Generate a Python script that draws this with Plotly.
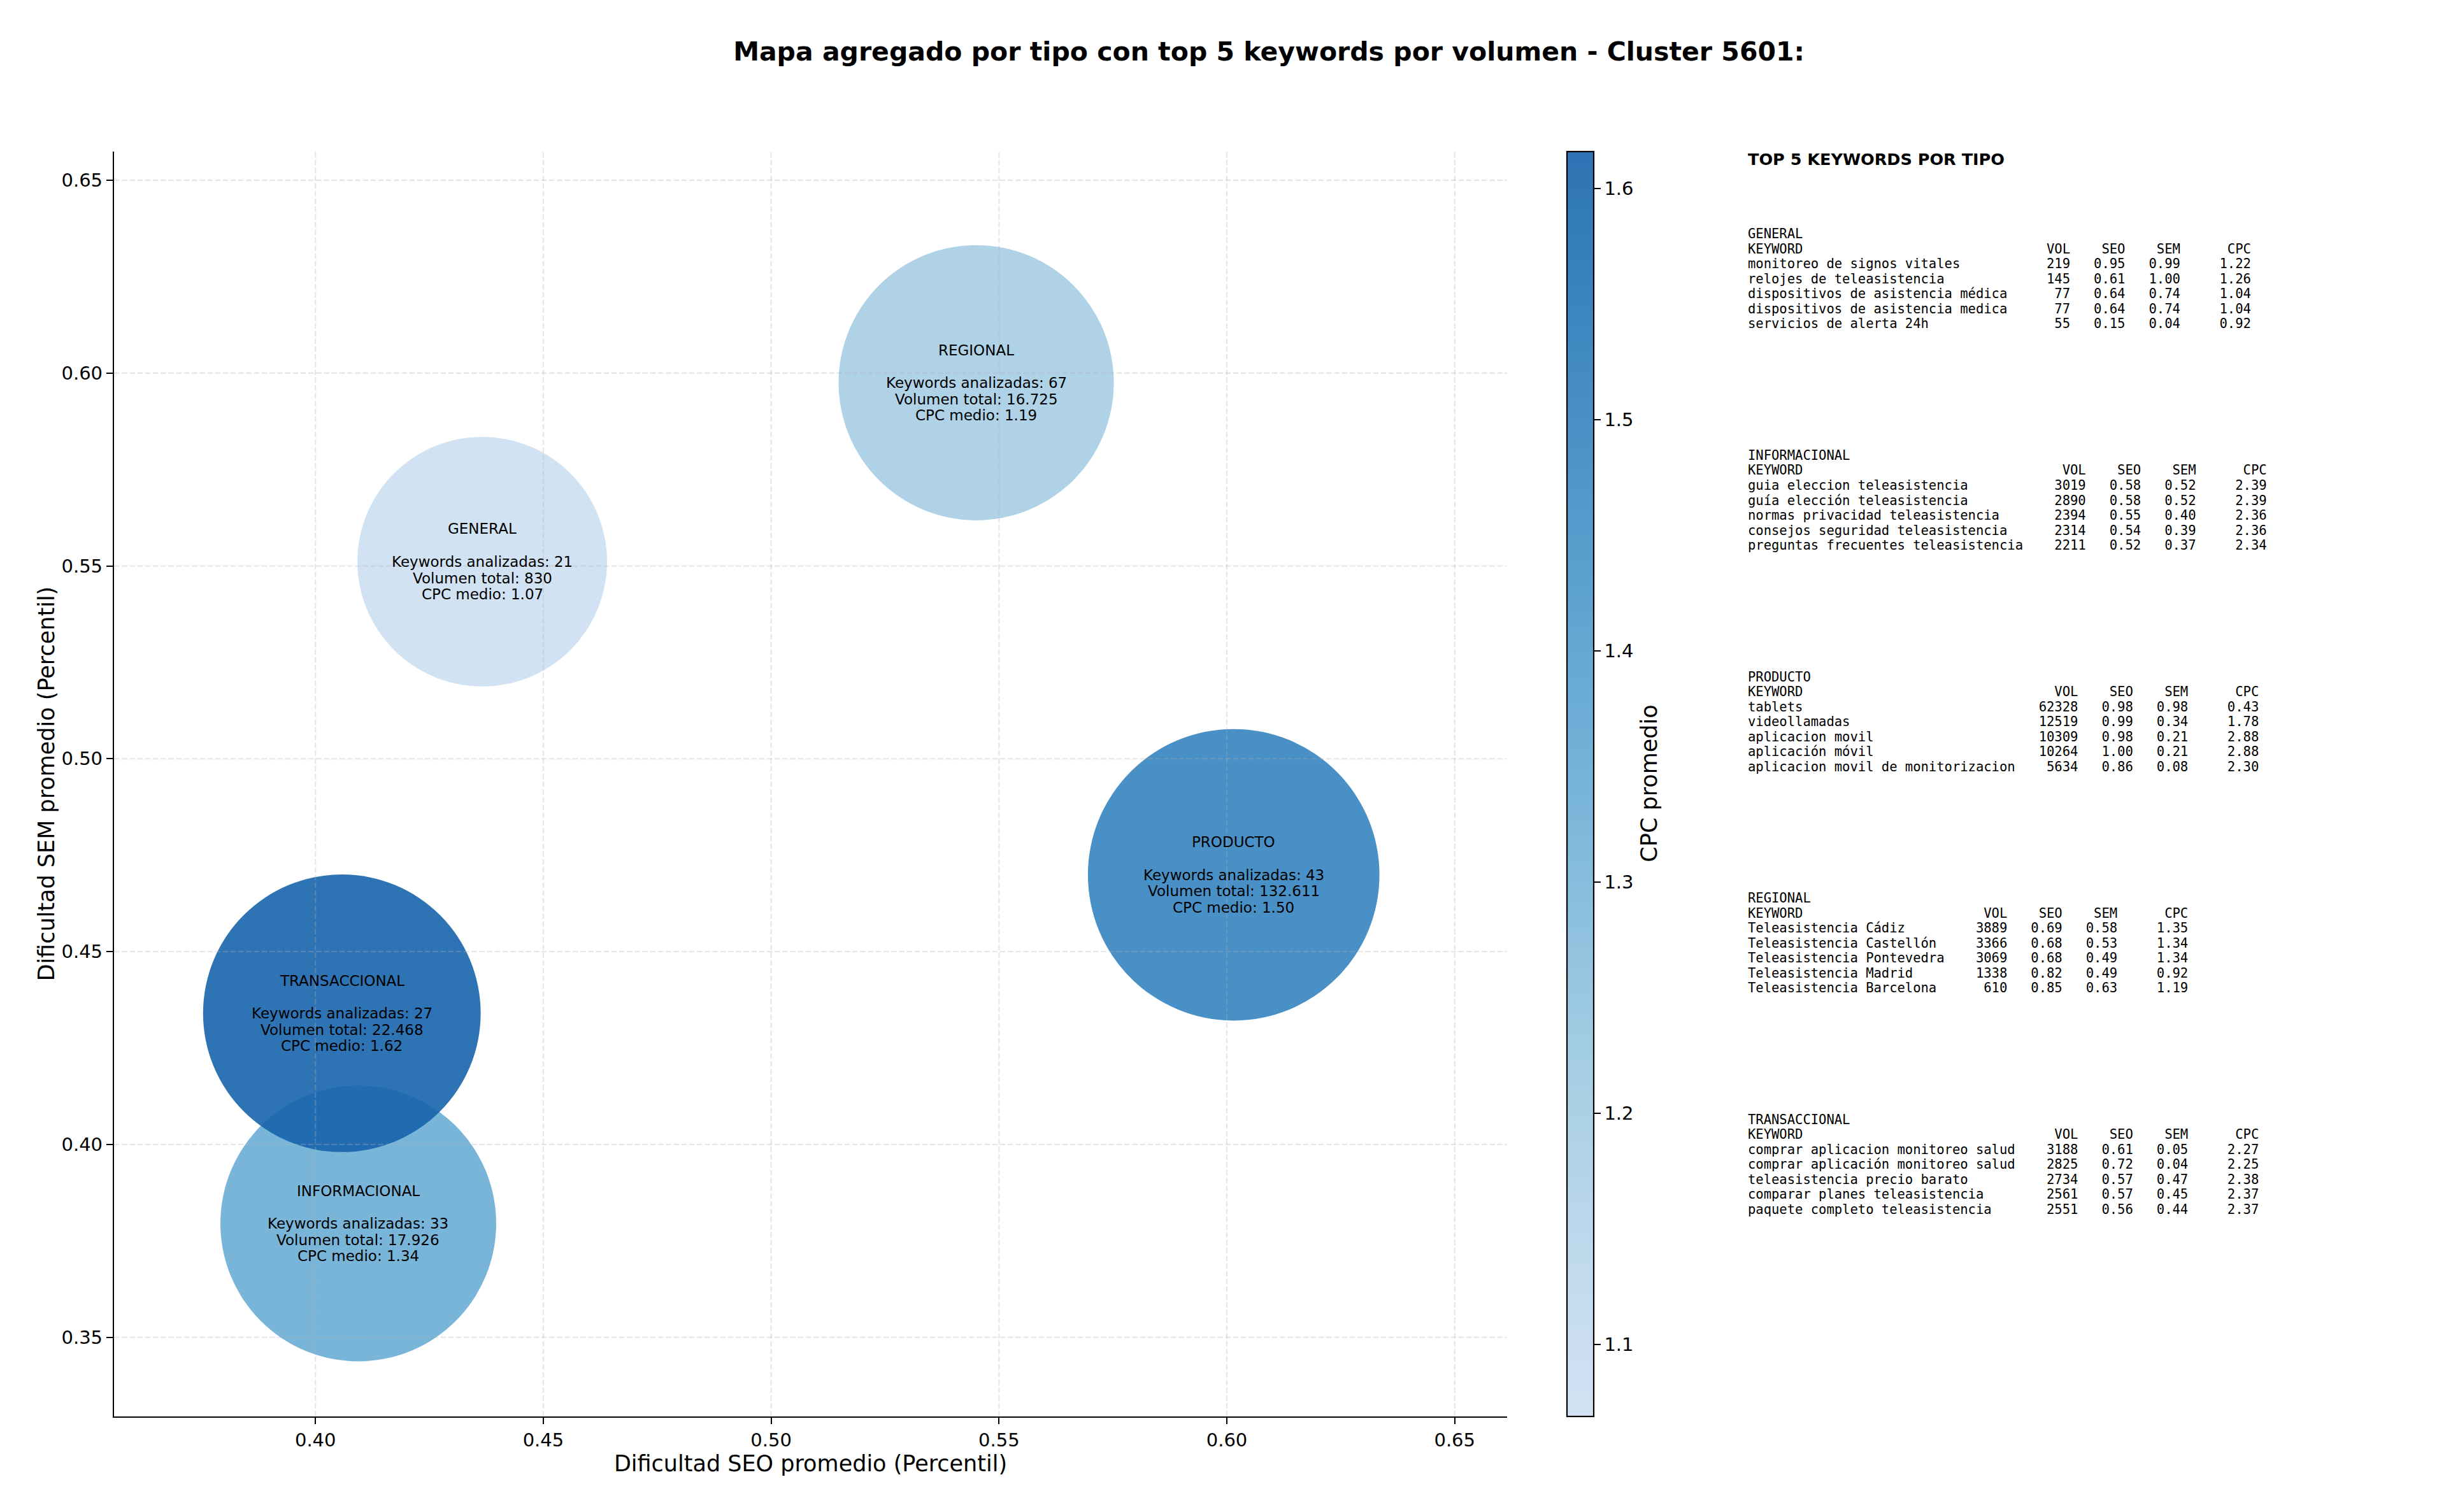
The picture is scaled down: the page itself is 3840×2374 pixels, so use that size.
import numpy as np
import plotly.graph_objects as go

W, H = 3840, 2374

# ---------------- data ----------------
tipos = ["GENERAL", "INFORMACIONAL", "PRODUCTO", "REGIONAL", "TRANSACCIONAL"]
seo_medio = [0.4366, 0.4094, 0.6015, 0.5450, 0.4058]
sem_medio = [0.5511, 0.3795, 0.4699, 0.5975, 0.4340]
cpc_medio = [1.069, 1.34, 1.50, 1.19, 1.616]
keywords_analizadas = [21, 33, 43, 67, 27]
volumen_total = [830, 17926, 132611, 16725, 22468]

x_ticks = [0.40, 0.45, 0.50, 0.55, 0.60, 0.65]
y_ticks = [0.35, 0.40, 0.45, 0.50, 0.55, 0.60, 0.65]
cb_ticks = [1.1, 1.2, 1.3, 1.4, 1.5, 1.6]

top_general = [
    ("monitoreo de signos vitales", 219, 0.95, 0.99, 1.22),
    ("relojes de teleasistencia", 145, 0.61, 1.00, 1.26),
    ("dispositivos de asistencia médica", 77, 0.64, 0.74, 1.04),
    ("dispositivos de asistencia medica", 77, 0.64, 0.74, 1.04),
    ("servicios de alerta 24h", 55, 0.15, 0.04, 0.92),
]
top_informacional = [
    ("guia eleccion teleasistencia", 3019, 0.58, 0.52, 2.39),
    ("guía elección teleasistencia", 2890, 0.58, 0.52, 2.39),
    ("normas privacidad teleasistencia", 2394, 0.55, 0.40, 2.36),
    ("consejos seguridad teleasistencia", 2314, 0.54, 0.39, 2.36),
    ("preguntas frecuentes teleasistencia", 2211, 0.52, 0.37, 2.34),
]
top_producto = [
    ("tablets", 62328, 0.98, 0.98, 0.43),
    ("videollamadas", 12519, 0.99, 0.34, 1.78),
    ("aplicacion movil", 10309, 0.98, 0.21, 2.88),
    ("aplicación móvil", 10264, 1.00, 0.21, 2.88),
    ("aplicacion movil de monitorizacion", 5634, 0.86, 0.08, 2.30),
]
top_regional = [
    ("Teleasistencia Cádiz", 3889, 0.69, 0.58, 1.35),
    ("Teleasistencia Castellón", 3366, 0.68, 0.53, 1.34),
    ("Teleasistencia Pontevedra", 3069, 0.68, 0.49, 1.34),
    ("Teleasistencia Madrid", 1338, 0.82, 0.49, 0.92),
    ("Teleasistencia Barcelona", 610, 0.85, 0.63, 1.19),
]
top_transaccional = [
    ("comprar aplicacion monitoreo salud", 3188, 0.61, 0.05, 2.27),
    ("comprar aplicación monitoreo salud", 2825, 0.72, 0.04, 2.25),
    ("teleasistencia precio barato", 2734, 0.57, 0.47, 2.38),
    ("comparar planes teleasistencia", 2561, 0.57, 0.45, 2.37),
    ("paquete completo teleasistencia", 2551, 0.56, 0.44, 2.37),
]
tablas = [top_general, top_informacional, top_producto, top_regional, top_transaccional]

# ---------------- styling helpers ----------------
BLUES = [(0.0, (247, 251, 255)), (0.125, (222, 235, 247)), (0.25, (198, 219, 239)),
         (0.375, (158, 202, 225)), (0.5, (107, 174, 214)), (0.625, (66, 146, 198)),
         (0.75, (33, 113, 181)), (0.875, (8, 81, 156)), (1.0, (8, 48, 107))]


def blues(t):
    for (t0, c0), (t1, c1) in zip(BLUES[:-1], BLUES[1:]):
        if t0 <= t <= t1:
            f = (t - t0) / (t1 - t0)
            return tuple(c0[i] + f * (c1[i] - c0[i]) for i in range(3))
    return BLUES[-1][1]


ALPHA = 0.9
colorscale = []
for s in np.linspace(0, 1, 21):
    r, g, b = blues(0.22 + 0.58 * s)
    colorscale.append([float(s), f"rgba({r:.0f},{g:.0f},{b:.0f},{ALPHA})"])

FONT = "DejaVu Sans"
MONO = "DejaVu Sans Mono"

x_dom = [179 / W, 2366 / W]
y_dom = [1 - 2223.7 / H, 1 - 237.6 / H]

vol_arr = np.array(volumen_total, dtype=float)
diam = np.sqrt(79560 + 11015 * np.log(vol_arr))

fig = go.Figure()
fig.add_trace(go.Scatter(
    x=seo_medio, y=sem_medio, mode="markers",
    marker=dict(
        size=diam, sizemode="diameter", color=cpc_medio,
        cmin=min(cpc_medio), cmax=max(cpc_medio),
        colorscale=colorscale, opacity=1, line=dict(width=0),
        colorbar=dict(
            thickness=42, thicknessmode="pixels",
            len=2223.7 - 237.6, lenmode="pixels",
            x=2460 / W, xanchor="left", y=y_dom[0], yanchor="bottom",
            xpad=0, ypad=0, outlinewidth=2.2, outlinecolor="black",
            ticks="outside", ticklen=10, tickwidth=2.2, tickcolor="black",
            tickmode="array", tickvals=cb_ticks, ticktext=[f"{v:.1f}" for v in cb_ticks],
            tickfont=dict(family=FONT, size=29, color="black"),
        ),
    ),
    hoverinfo="skip", showlegend=False,
))

annotations = []
# colorbar title
annotations.append(dict(
    x=2589 / W, y=(y_dom[0] + y_dom[1]) / 2, xref="paper", yref="paper",
    text="CPC promedio", textangle=-90, showarrow=False,
    xanchor="center", yanchor="middle",
    font=dict(family=FONT, size=35, color="black")))

# bubble labels
LINE_BUB = 25.7
for t, xv, yv, n, v, c in zip(tipos, seo_medio, sem_medio, keywords_analizadas,
                              volumen_total, cpc_medio):
    vol_txt = f"{v:,}".replace(",", ".")
    lines = [t, "", f"Keywords analizadas: {n}", f"Volumen total: {vol_txt}",
             f"CPC medio: {c:.2f}"]
    for i, ln in enumerate(lines):
        if not ln:
            continue
        annotations.append(dict(
            x=xv, y=yv, xref="x", yref="y", text=ln, showarrow=False,
            xanchor="center", yanchor="middle", yshift=(2 - i) * LINE_BUB,
            font=dict(family=FONT, size=23, color="black")))

# right-hand text panel
NB = "\u00a0"
x_txt = 2742 / W
annotations.append(dict(
    x=x_txt, y=1 - 250 / H, xref="paper", yref="paper",
    text="<b>TOP 5 KEYWORDS POR TIPO</b>", showarrow=False,
    xanchor="left", yanchor="middle",
    font=dict(family=FONT, size=25.5, color="black")))

LINE_TXT = 23.5
for k, (t, tabla) in enumerate(zip(tipos, tablas)):
    w = max(len(r[0]) for r in tabla)
    rows = [t, f"{'KEYWORD':<{w}} {'VOL':>7} {'SEO':>6} {'SEM':>6} {'CPC':>8}"]
    for kw, vv, so, sm, cc in tabla:
        rows.append(f"{kw:<{w}} {vv:>7} {so:>6.2f} {sm:>6.2f} {cc:>8.2f}")
    y0 = 367.4 + k * 347.6
    for i, r in enumerate(rows):
        annotations.append(dict(
            x=x_txt, y=1 - (y0 + i * LINE_TXT) / H, xref="paper", yref="paper",
            text=r.replace(" ", NB), showarrow=False,
            xanchor="left", yanchor="middle",
            font=dict(family=MONO, size=20.5, color="black")))

# grid lines drawn above bubbles (as matplotlib does)
shapes = []
GRID = dict(color="rgba(176,176,176,0.3)", width=2.3, dash="8.5px,3.7px")
for xv in x_ticks:
    shapes.append(dict(type="line", xref="x", yref="paper", x0=xv, x1=xv,
                       y0=y_dom[0], y1=y_dom[1], line=GRID, layer="above"))
for yv in y_ticks:
    shapes.append(dict(type="line", xref="paper", yref="y", x0=x_dom[0], x1=x_dom[1],
                       y0=yv, y1=yv, line=GRID, layer="above"))

axis_common = dict(
    showgrid=False, zeroline=False, showline=True, linecolor="black", linewidth=2.3,
    ticks="outside", ticklen=10, tickwidth=2.3, tickcolor="black",
    tickfont=dict(family=FONT, size=29, color="black"), mirror=False,
    automargin=False, tickformat=".2f", tickmode="array",
)

fig.update_layout(
    width=W, height=H,
    margin=dict(l=0, r=0, t=0, b=0, autoexpand=False),
    paper_bgcolor="white", plot_bgcolor="white",
    title=dict(text="<b>Mapa agregado por tipo con top 5 keywords por volumen - Cluster 5601:</b>",
               x=1992 / W, xanchor="center", y=1 - 81 / H, yanchor="middle",
               xref="paper", yref="container",
               font=dict(family=FONT, size=41, color="black")),
    xaxis=dict(axis_common, domain=x_dom, range=[min(seo_medio) - 0.05, max(seo_medio) + 0.06],
               tickvals=x_ticks,
               title=dict(text="Dificultad SEO promedio (Percentil)", standoff=8,
                          font=dict(family=FONT, size=35, color="black"))),
    yaxis=dict(axis_common, domain=y_dom, range=[min(sem_medio) - 0.05, max(sem_medio) + 0.06],
               tickvals=y_ticks,
               title=dict(text="Dificultad SEM promedio (Percentil)", standoff=0,
                          font=dict(family=FONT, size=35, color="black"))),
    annotations=annotations,
    shapes=shapes,
)

fig.write_html("out.html", config={"displayModeBar": False},
               post_script="document.body.style.margin='0px';")
